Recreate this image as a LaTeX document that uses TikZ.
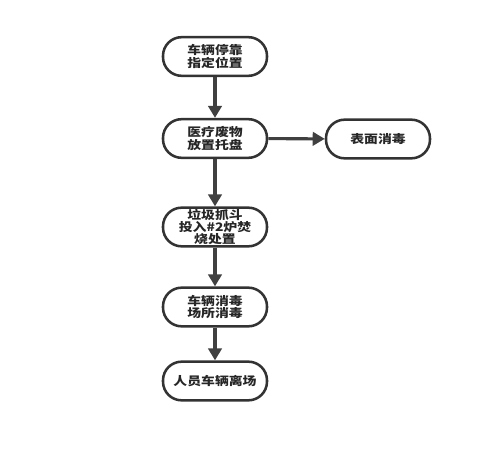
\documentclass[tikz,border=0pt]{standalone}
\usepackage{fontspec}
\newfontfamily\cjk{Noto Sans CJK SC}[FakeStretch=1.18]
\usetikzlibrary{arrows.meta}
\begin{document}
\begin{tikzpicture}[x=0.75pt,y=-0.75pt,
  stepbox/.style={draw=black!80,line width=1.9pt,rounded corners=14pt,minimum width=78pt,minimum height=29pt,inner sep=0pt,align=center,font=\cjk\bfseries\fontsize{8.8}{9.4}\selectfont,text=black!85},
  flow/.style={draw=black!75,line width=2.3pt,-{Triangle[length=9pt,width=10pt]}}]
\useasboundingbox (0,0) rectangle (490,460);
\node[stepbox] (park) at (215,56.5) {车辆停靠\\指定位置};
\node[stepbox] (tray) at (215,138.5) {医疗废物\\放置托盘};
\node[stepbox] (disinf) at (378,139) {表面消毒};
\node[stepbox,font=\cjk\bfseries\fontsize{8.8}{8.7}\selectfont] (burn) at (215,227) {垃圾抓斗\\投入\#2炉焚\\烧处置};
\node[stepbox] (clean) at (215,307) {车辆消毒\\场所消毒};
\node[stepbox] (leave) at (215,381) {人员车辆离场};
\draw[flow] (park) -- (tray);
\draw[flow] (tray) -- (disinf);
\draw[flow] (tray) -- (burn);
\draw[flow] (burn) -- (clean);
\draw[flow] (clean) -- (leave);
\end{tikzpicture}
\end{document}
